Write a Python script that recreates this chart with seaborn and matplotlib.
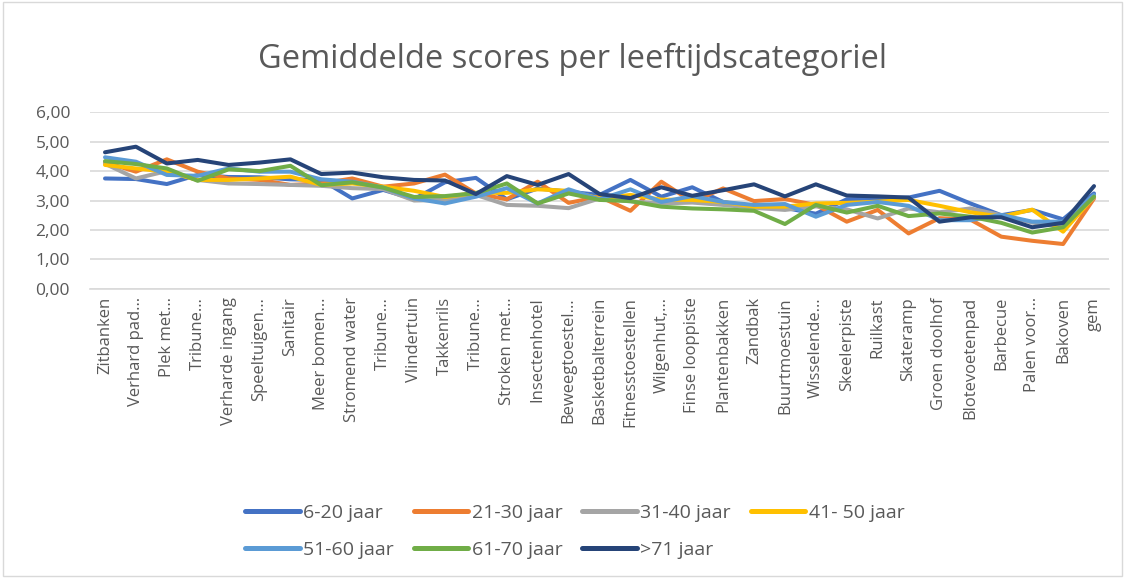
import matplotlib
matplotlib.use("Agg")
import matplotlib.pyplot as plt
import seaborn as sns
import pandas as pd
from matplotlib.patches import Rectangle

categories = ["Zitbanken", "Verhard pad…", "Plek met…", "Tribune…", "Verharde ingang",
              "Speeltuigen…", "Sanitair", "Meer bomen…", "Stromend water", "Tribune…",
              "Vlindertuin", "Takkenrils", "Tribune…", "Stroken met…", "Insectenhotel",
              "Beweegtoestel…", "Basketbalterrein", "Fitnesstoestellen", "Wilgenhut,…",
              "Finse looppiste", "Plantenbakken", "Zandbak", "Buurtmoestuin", "Wisselende…",
              "Skeelerpiste", "Ruilkast", "Skateramp", "Groen doolhof", "Blotevoetenpad",
              "Barbecue", "Palen voor…", "Bakoven", "gem"]

s_6_20 = [3.75, 3.73, 3.56, 3.87, 3.80, 3.79, 3.72, 3.70, 3.07, 3.36, 3.05, 3.62, 3.77,
          3.04, 3.41, 3.30, 3.19, 3.70, 3.13, 3.45, 2.95, 2.75, 2.75, 2.55, 3.04, 3.07,
          3.10, 3.33, 2.90, 2.50, 2.68, 2.36, 3.24]
s_21_30 = [4.30, 3.98, 4.40, 3.98, 3.75, 3.70, 3.53, 3.58, 3.75, 3.47, 3.58, 3.88, 3.24,
           3.04, 3.64, 2.92, 3.13, 2.65, 3.64, 2.96, 3.41, 2.98, 3.05, 2.85, 2.28, 2.68,
           1.88, 2.40, 2.35, 1.77, 1.63, 1.52, 3.07]
s_31_40 = [4.25, 3.75, 4.00, 3.70, 3.58, 3.56, 3.53, 3.50, 3.42, 3.39, 3.00, 3.02, 3.19,
           2.85, 2.82, 2.74, 3.07, 2.97, 2.90, 2.93, 2.85, 2.75, 2.68, 2.80, 2.70, 2.39,
           2.73, 2.60, 2.73, 2.50, 2.25, 2.10, 3.10]
s_41_50 = [4.21, 4.09, 3.98, 3.70, 3.70, 3.75, 3.81, 3.53, 3.58, 3.47, 3.33, 3.12, 3.26,
           3.26, 3.38, 3.33, 3.07, 3.19, 3.03, 3.02, 2.95, 2.79, 2.79, 2.90, 2.92, 2.96,
           3.02, 2.82, 2.60, 2.45, 2.69, 1.94, 3.13]
s_51_60 = [4.47, 4.32, 3.87, 3.84, 4.09, 3.98, 3.98, 3.72, 3.64, 3.44, 3.07, 2.90, 3.13,
           3.42, 2.90, 3.38, 3.04, 3.38, 2.95, 3.15, 2.95, 2.85, 2.88, 2.45, 2.85, 2.95,
           2.82, 2.33, 2.33, 2.51, 2.28, 2.28, 3.19]
s_61_70 = [4.34, 4.24, 4.09, 3.67, 4.06, 4.00, 4.18, 3.52, 3.62, 3.44, 3.12, 3.15, 3.25,
           3.58, 2.90, 3.24, 3.02, 2.98, 2.79, 2.73, 2.70, 2.65, 2.20, 2.85, 2.59, 2.82,
           2.47, 2.56, 2.45, 2.24, 1.91, 2.09, 3.13]
s_71 = [4.64, 4.83, 4.26, 4.38, 4.21, 4.29, 4.40, 3.90, 3.95, 3.79, 3.70, 3.68, 3.22,
        3.83, 3.53, 3.90, 3.22, 3.08, 3.45, 3.16, 3.35, 3.55, 3.14, 3.55, 3.17, 3.14,
        3.10, 2.28, 2.43, 2.43, 2.09, 2.24, 3.49]

series_names = ["6-20 jaar", "21-30 jaar", "31-40 jaar", "41- 50 jaar",
                "51-60 jaar", "61-70 jaar", ">71 jaar"]
series_values = [s_6_20, s_21_30, s_31_40, s_41_50, s_51_60, s_61_70, s_71]
colors = ["#4472C4", "#ED7D31", "#A5A5A5", "#FFC000", "#5B9BD5", "#70AD47", "#264478"]
y_ticks = [0, 1, 2, 3, 4, 5, 6]

rows = []
for name, vals in zip(series_names, series_values):
    for i, v in enumerate(vals):
        rows.append({"pos": i, "score": v, "groep": name})
df = pd.DataFrame(rows)

sns.set_theme(style="white")
plt.rcParams['font.family'] = ['Open Sans', 'DejaVu Sans']
text_color = "#595959"

fig = plt.figure(figsize=(11.25, 5.78), dpi=100)
ax = fig.add_axes([0.0796, 0.5005, 0.9066, 0.3052])

sns.lineplot(data=df, x="pos", y="score", hue="groep", hue_order=series_names,
             palette=colors, linewidth=2.9, ax=ax, legend=False, sort=False)

ax.set_xlim(-0.5, len(categories) - 0.5)
ax.set_ylim(0, 6)
ax.set_yticks(y_ticks)
ax.set_yticklabels([f"{t:.2f}".replace(".", ",") for t in y_ticks],
                   fontsize=12.5, color=text_color)
ax.set_xticks(range(len(categories)))
ax.set_xticklabels(categories, rotation=90, fontsize=12, color=text_color)
ax.tick_params(axis="x", length=0, pad=6)
ax.tick_params(axis="y", length=0, pad=14)
ax.set_xlabel("")
ax.set_ylabel("")
ax.grid(axis="y", color="#D9D9D9", linewidth=1.2)
ax.set_axisbelow(True)
for side in ["top", "right", "left"]:
    ax.spines[side].set_visible(False)
ax.spines["bottom"].set_color("#D9D9D9")
ax.spines["bottom"].set_linewidth(1.2)

fig.text(0.509, 0.897, "Gemiddelde scores per leeftijdscategoriel", ha="center", va="center",
         fontsize=23.5, color=text_color)

handles = [plt.Line2D([0], [0], color=c, linewidth=3.6, solid_capstyle="round") for c in colors]
order = [0, 4, 1, 5, 2, 6, 3]
leg = fig.legend([handles[i] for i in order], [series_names[i] for i in order],
                 ncol=4, loc="center", bbox_to_anchor=(0.511, 0.0804), frameon=False,
                 fontsize=14, handlelength=2.8, handletextpad=0.2, columnspacing=1.0,
                 labelspacing=1.0)
for t in leg.get_texts():
    t.set_color(text_color)

fig.patches.append(Rectangle((0.003, 0.003), 0.994, 0.994, transform=fig.transFigure,
                             fill=False, edgecolor="#D9D9D9", linewidth=1))

fig.savefig("out.png", dpi=100)
